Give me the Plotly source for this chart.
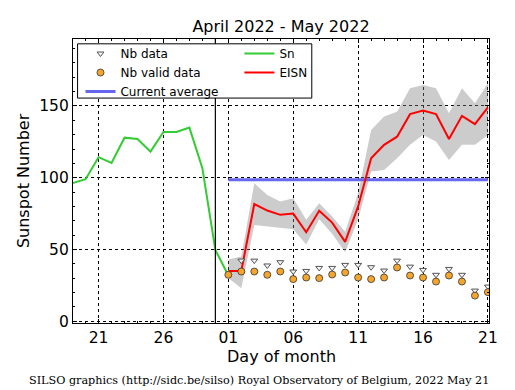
import plotly.graph_objects as go
import pandas as pd

# ---------------- data ----------------
sn_dates = pd.date_range("2022-04-19", "2022-05-01", freq="D")
sn_values = [96.2, 99.0, 114.3, 110.3, 127.9, 127.0, 118.2, 131.9, 131.9, 134.9, 106.6, 49.7, 31.8]

may_dates = pd.date_range("2022-05-01", "2022-05-21", freq="D")
eisn_values = [35.0, 35.0, 81.7, 77.1, 74.1, 75.0, 62.0, 76.9, 68.7, 55.3, 80.0,
               113.6, 122.9, 128.6, 144.3, 146.8, 144.3, 127.0, 143.1, 137.3, 149.1]
eisn_upper = [43.0, 45.0, 96.1, 88.0, 83.4, 85.7, 70.6, 82.2, 72.9, 62.4, 89.2,
              133.3, 142.6, 146.0, 162.4, 164.7, 162.4, 145.0, 162.4, 151.9, 165.9]
eisn_lower = [30.0, 23.0, 67.0, 66.0, 65.0, 64.0, 53.5, 71.0, 61.0, 48.0, 71.0,
              104.3, 105.4, 113.6, 122.9, 129.8, 125.2, 112.4, 122.9, 122.9, 129.8]
nb_data = [None, 42.2, 42.2, 38.8, 41.1, 34.6, 35.0, 37.1, 37.1, 39.2, 39.2,
           37.6, 35.3, 42.2, 38.0, 35.7, 32.3, 36.4, 32.3, 21.3, 24.1]
nb_valid = [32.3, 34.6, 34.6, 32.3, 34.6, 29.3, 30.4, 30.0, 32.5, 33.9, 30.4,
            29.3, 30.4, 37.4, 31.8, 30.4, 27.6, 31.8, 27.6, 17.8, 20.2]

current_average = 98.5
avg_dates = ["2022-05-01", "2022-05-21"]
month_boundary = "2022-04-30"

tick_dates = ["2022-04-21", "2022-04-26", "2022-05-01", "2022-05-06",
              "2022-05-11", "2022-05-16", "2022-05-21"]
tick_labels = ["21", "26", "01", "06", "11", "16", "21"]
y_ticks = [0, 50, 100, 150]

FONT = "DejaVu Sans"

fig = go.Figure()

# uncertainty band
fig.add_trace(go.Scatter(
    x=list(may_dates) + list(may_dates[::-1]),
    y=eisn_upper + eisn_lower[::-1],
    fill="toself", fillcolor="rgba(128,128,128,0.4)",
    line=dict(width=0), mode="lines", showlegend=False, hoverinfo="skip"))

# Sn
fig.add_trace(go.Scatter(
    x=sn_dates, y=sn_values, mode="lines", name="Sn",
    line=dict(color="#33cc33", width=2), legend="legend2", legendrank=1))

# current average
fig.add_trace(go.Scatter(
    x=avg_dates, y=[current_average, current_average], mode="lines",
    name="Current average", line=dict(color="#6666ee", width=3),
    legend="legend", legendrank=3))

# EISN
fig.add_trace(go.Scatter(
    x=may_dates, y=eisn_values, mode="lines", name="EISN",
    line=dict(color="#ff0000", width=2), legend="legend2", legendrank=2))

# Nb data
fig.add_trace(go.Scatter(
    x=may_dates, y=nb_data, mode="markers", name="Nb data",
    marker=dict(symbol="triangle-down", size=6, color="#f4f4f4",
                line=dict(color="#555555", width=1)),
    legend="legend", legendrank=1))

# Nb valid data
fig.add_trace(go.Scatter(
    x=may_dates, y=nb_valid, mode="markers", name="Nb valid data",
    marker=dict(symbol="circle", size=7, color="#f4a52c",
                line=dict(color="#333333", width=0.8)),
    legend="legend", legendrank=2))

# month boundary line
fig.add_shape(type="line", xref="x", yref="paper", x0=month_boundary, x1=month_boundary,
              y0=0, y1=1, line=dict(color="black", width=1.2), layer="above")

# legend box
fig.add_shape(type="rect", xref="paper", yref="paper", x0=0.011, x1=0.574,
              y0=0.792, y1=0.983, fillcolor="white",
              line=dict(color="black", width=1), layer="above")

axis_common = dict(
    showline=True, linecolor="black", linewidth=1.3, mirror="allticks",
    ticks="inside", ticklen=4, tickcolor="black", tickwidth=1,
    showgrid=True, gridcolor="black", griddash="dot", gridwidth=0.7,
    zeroline=False, tickfont=dict(family=FONT, size=15.5, color="black"),
)

fig.update_xaxes(
    type="date", range=["2022-04-19 00:45", "2022-05-21 02:00"],
    tickvals=tick_dates, ticktext=tick_labels,
    minor=dict(ticks="inside", ticklen=2, tickcolor="black",
               dtick=86400000, tick0="2022-04-19", showgrid=False),
    **axis_common)
fig.update_yaxes(
    range=[-1.3, 196.7], tickvals=y_ticks,
    minor=dict(ticks="inside", ticklen=2, tickcolor="black",
               dtick=10, tick0=0, showgrid=False),
    **axis_common)

fig.update_layout(
    width=515, height=390,
    margin=dict(l=73, r=26, t=39, b=67, pad=0),
    plot_bgcolor="white", paper_bgcolor="white",
    font=dict(family=FONT, color="black"),
    title=dict(text="April 2022 - May 2022", x=0.5456, xanchor="center",
               y=0.933, yanchor="middle", font=dict(family=FONT, size=16)),
    legend=dict(x=0.018, y=1.0, xanchor="left", yanchor="top",
                bgcolor="rgba(0,0,0,0)", borderwidth=0, tracegroupgap=0,
                font=dict(family=FONT, size=12, color="black")),
    legend2=dict(x=0.40, y=1.0, xanchor="left", yanchor="top",
                 bgcolor="rgba(0,0,0,0)", borderwidth=0, tracegroupgap=0,
                 font=dict(family=FONT, size=12, color="black")),
    annotations=[
        dict(text="Day of month", xref="paper", yref="paper", x=0.5, y=-0.1195,
             xanchor="center", yanchor="middle", showarrow=False,
             font=dict(family=FONT, size=16, color="black")),
        dict(text="Sunspot Number", xref="paper", yref="paper", x=-0.1200, y=0.5,
             xanchor="center", yanchor="middle", textangle=-90, showarrow=False,
             font=dict(family=FONT, size=16, color="black")),
        dict(text="SILSO graphics (http://sidc.be/silso) Royal Observatory of Belgium, 2022 May 21",
             xref="paper", yref="paper", x=0.448, y=-0.202,
             xanchor="center", yanchor="middle", showarrow=False,
             font=dict(family="DejaVu Serif", size=11.2, color="black")),
    ],
)

fig.write_html("out.html", config={"displayModeBar": False},
               post_script="document.body.style.margin='0px';document.body.style.overflow='hidden';")
